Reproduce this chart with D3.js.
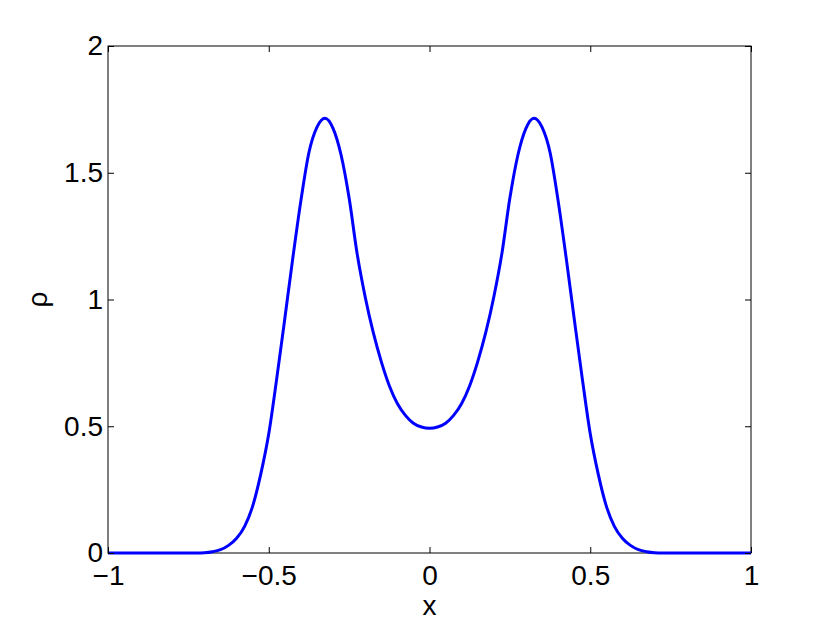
<!DOCTYPE html>
<html>
<head>
<meta charset="utf-8">
<script src="https://cdn.jsdelivr.net/npm/d3@7"></script>
<style>
  body { margin: 0; background: #fff; }
  text { font-family: "Liberation Sans", Arial, sans-serif; }
</style>
</head>
<body>
<div id="vis"></div>
<script>
// frame size
const FRAME_WIDTH = 830;
const FRAME_HEIGHT = 623;
const MARGINS = {left: 108, right: 79, top: 46, bottom: 70};
const VIS_WIDTH = FRAME_WIDTH - MARGINS.left - MARGINS.right;
const VIS_HEIGHT = FRAME_HEIGHT - MARGINS.top - MARGINS.bottom;

// data
const X_VALUES = [-1, -0.9, -0.8, -0.75, -0.725, -0.7, -0.675, -0.65, -0.625, -0.6, -0.575, -0.55, -0.525,
  -0.5, -0.475, -0.45, -0.425, -0.4, -0.375, -0.35, -0.325, -0.3, -0.275, -0.25, -0.225,
  -0.2, -0.175, -0.15, -0.125, -0.1, -0.075, -0.05, -0.025, 0,
  0.025, 0.05, 0.075, 0.1, 0.125, 0.15, 0.175, 0.2, 0.225, 0.25, 0.275, 0.3, 0.325,
  0.35, 0.375, 0.4, 0.425, 0.45, 0.475, 0.5, 0.525, 0.55, 0.575, 0.6, 0.625, 0.65,
  0.675, 0.7, 0.725, 0.75, 0.8, 0.9, 1];
const RHO_VALUES = [0, 0, 0, 0, 0, 0.001, 0.005, 0.013, 0.03, 0.058, 0.105, 0.185, 0.31,
  0.47, 0.69, 0.925, 1.165, 1.39, 1.58, 1.68, 1.715, 1.675, 1.57, 1.40, 1.18,
  1.01, 0.87, 0.755, 0.66, 0.59, 0.543, 0.512, 0.497, 0.492,
  0.497, 0.512, 0.543, 0.59, 0.66, 0.755, 0.87, 1.01, 1.18, 1.40, 1.57, 1.675, 1.715,
  1.68, 1.58, 1.39, 1.165, 0.925, 0.69, 0.47, 0.31, 0.185, 0.105, 0.058, 0.03, 0.013,
  0.005, 0.001, 0, 0, 0, 0, 0];
const X_TICKS = [-1, -0.5, 0, 0.5, 1];
const Y_TICKS = [0, 0.5, 1, 1.5, 2];

const data = X_VALUES.map((x, i) => ({x: x, rho: RHO_VALUES[i]}));

const FRAME = d3.select("#vis")
                .append("svg")
                  .attr("width", FRAME_WIDTH)
                  .attr("height", FRAME_HEIGHT);

const X_SCALE = d3.scaleLinear().domain([-1, 1]).range([0, VIS_WIDTH]);
const Y_SCALE = d3.scaleLinear().domain([0, 2]).range([VIS_HEIGHT, 0]);

const g = FRAME.append("g")
               .attr("transform", "translate(" + MARGINS.left + "," + MARGINS.top + ")");

// box
g.append("rect")
  .attr("width", VIS_WIDTH)
  .attr("height", VIS_HEIGHT)
  .attr("fill", "none")
  .attr("stroke", "#000")
  .attr("stroke-width", 1);

// curve
g.append("path")
  .datum(data)
  .attr("fill", "none")
  .attr("stroke", "#0000ff")
  .attr("stroke-width", 3)
  .attr("stroke-linejoin", "round")
  .attr("d", d3.line()
    .x(d => X_SCALE(d.x))
    .y(d => Y_SCALE(d.rho))
    .curve(d3.curveMonotoneX));

// axes, ticks pointing inward
function styleAxis(sel) {
  sel.select(".domain").remove();
  sel.selectAll("line").attr("stroke", "#000");
  sel.selectAll("text").attr("font-size", "28px").attr("fill", "#000");
}

g.append("g")
  .attr("transform", "translate(0," + VIS_HEIGHT + ")")
  .call(d3.axisBottom(X_SCALE).tickValues(X_TICKS).tickSize(-6).tickPadding(12).tickFormat(d3.format("")))
  .call(styleAxis);

g.append("g")
  .call(d3.axisTop(X_SCALE).tickValues(X_TICKS).tickSize(-6).tickFormat(""))
  .call(styleAxis);

g.append("g")
  .call(d3.axisLeft(Y_SCALE).tickValues(Y_TICKS).tickSize(-6).tickPadding(5).tickFormat(d3.format("")))
  .call(styleAxis);

g.append("g")
  .attr("transform", "translate(" + VIS_WIDTH + ",0)")
  .call(d3.axisRight(Y_SCALE).tickValues(Y_TICKS).tickSize(-6).tickFormat(""))
  .call(styleAxis);

// axis labels
FRAME.append("text")
  .attr("x", MARGINS.left + VIS_WIDTH / 2)
  .attr("y", 615)
  .attr("text-anchor", "middle")
  .attr("font-size", "28px")
  .text("x");

FRAME.append("text")
  .attr("transform", "translate(47," + (MARGINS.top + VIS_HEIGHT / 2) + ") rotate(-90)")
  .attr("text-anchor", "middle")
  .attr("font-size", "28px")
  .text("ρ");
</script>
</body>
</html>
